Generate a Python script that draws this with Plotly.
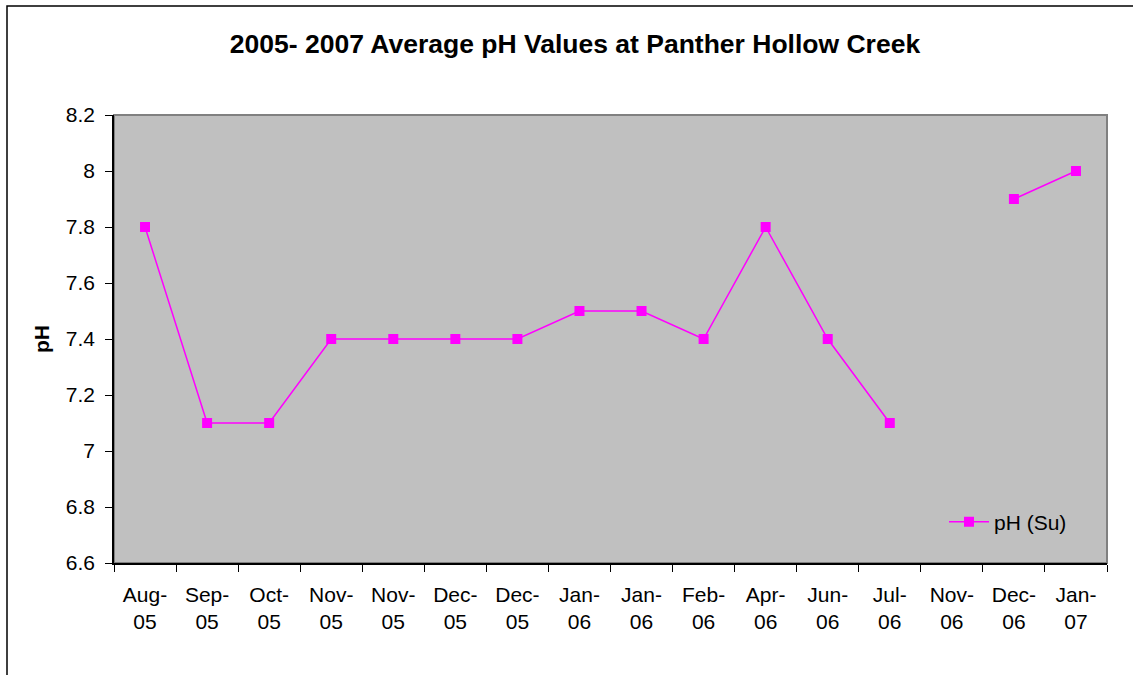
import plotly.graph_objects as go

categories = ["Aug-<br>05", "Sep-<br>05", "Oct-<br>05", "Nov-<br>05", "Nov-<br>05", "Dec-<br>05",
              "Dec-<br>05", "Jan-<br>06", "Jan-<br>06", "Feb-<br>06", "Apr-<br>06", "Jun-<br>06",
              "Jul-<br>06", "Nov-<br>06", "Dec-<br>06", "Jan-<br>07"]
ph_values = [7.8, 7.1, 7.1, 7.4, 7.4, 7.4, 7.4, 7.5, 7.5, 7.4, 7.8, 7.4, 7.1, None, 7.9, 8.0]
y_ticks = [6.6, 6.8, 7.0, 7.2, 7.4, 7.6, 7.8, 8.0, 8.2]
y_ticktext = ["6.6", "6.8", "7", "7.2", "7.4", "7.6", "7.8", "8", "8.2"]

W, H = 1133, 675
L, R, T, B = 114, 26, 115, 112
pw, ph = W - L - R, H - T - B

xs = list(range(len(categories)))

fig = go.Figure()
fig.add_trace(go.Scatter(
    x=xs, y=ph_values, mode="lines+markers", name="pH (Su)",
    line=dict(color="#FF00FF", width=1.5),
    marker=dict(symbol="square", size=10, color="#FF00FF"),
    connectgaps=False,
))

font = "Liberation Sans, Arial, sans-serif"
fig.update_layout(
    width=W, height=H,
    margin=dict(l=L, r=R, t=T, b=B),
    paper_bgcolor="white",
    plot_bgcolor="#C0C0C0",
    font=dict(family=font, size=21, color="black"),
    title=dict(text="<b>2005- 2007 Average pH Values at Panther Hollow Creek</b>",
               x=(575) / W, xanchor="center", y=1 - 44 / H, yanchor="middle",
               font=dict(size=26.5, family=font)),
    showlegend=True,
    legend=dict(x=(944 - L) / pw, xanchor="left", y=(H - B - 522) / ph, yanchor="middle",
                bgcolor="rgba(0,0,0,0)", font=dict(size=21), itemwidth=40),
    xaxis=dict(range=[-0.5, len(categories) - 0.5], tickmode="array", tickvals=xs,
               ticktext=categories, ticks="", showgrid=False, zeroline=False,
               showline=True, linecolor="black", linewidth=1.5, mirror=False,
               ticklabelstandoff=12,
               minor=dict(tickvals=[i - 0.5 for i in range(len(categories) + 1)],
                          ticks="outside", ticklen=7, tickcolor="black", tickwidth=1,
                          showgrid=False)),
    yaxis=dict(range=[6.6, 8.2], tickmode="array", tickvals=y_ticks, ticktext=y_ticktext,
               ticks="outside", ticklen=7, tickcolor="black", showgrid=False, zeroline=False,
               showline=True, linecolor="black", linewidth=1.5, ticklabelstandoff=6,
               title=dict(text="<b>pH</b>", font=dict(size=21), standoff=10)),
)

# plot area border (gray) on top and right
fig.add_shape(type="rect", xref="paper", yref="paper", x0=0, x1=1, y0=0, y1=1,
              line=dict(color="#808080", width=2), layer="below")
# outer chart frame
fig.add_shape(type="rect", xref="paper", yref="paper",
              x0=(7 - L) / pw, x1=(W + 10 - L) / pw,
              y0=(H - B - (H + 10)) / ph, y1=(H - B - 6) / ph,
              line=dict(color="black", width=1.5))

fig.write_html("out.html")
